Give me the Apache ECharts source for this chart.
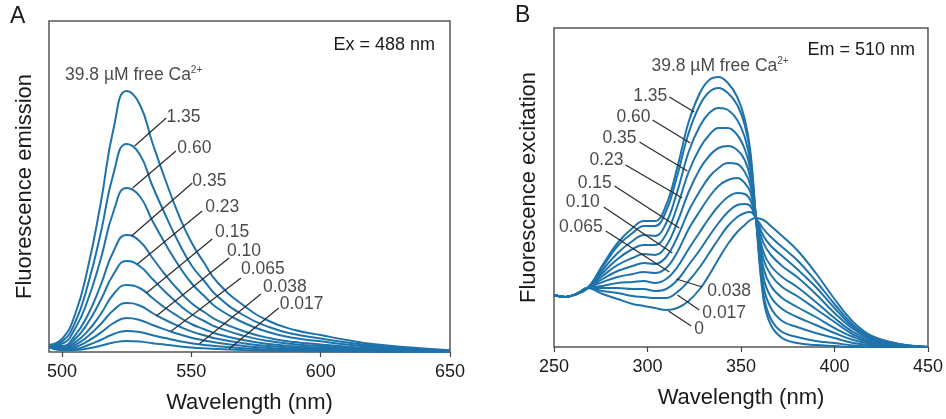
<!DOCTYPE html>
<html><head><meta charset="utf-8">
<script src="https://cdn.jsdelivr.net/npm/echarts@6/dist/echarts.min.js"></script>
<style>html,body{margin:0;padding:0;background:#fff}#c{width:946px;height:419px}</style>
</head><body><div id="c"></div>
<script>
// ---------- Panel A: emission (Ex = 488 nm) ----------
const wlA = [495,500,505,510,515,520,525,530,535,540,545,550,555,560,570,580,590,600,610,620,635,650];
const caA = ['39.8','1.35','0.60','0.35','0.23','0.15','0.10','0.065','0.038','0.017'];
const emA_39_8 = [7,13,37,84,149,224,261,248,209,172,138,110,89,70,47,31,22,17,12,8,4.4,1.8];
const emA_1_35 = [6.5,10.4,29,67,119,179,208,198,166,137,110,87,71,56,37,25,17.7,13.5,9.6,6.7,3.5,1.5];
const emA_0_60 = [6,8.2,23,52,93,141,164,156,131,108,87,69,56,44,29.5,19.7,13.9,10.7,7.5,5.2,2.8,1.1];
const emA_0_35 = [6,5.9,16.4,37,67,101,117,111,94,77,62,49,40,31.6,21,14,9.9,7.6,5.4,3.7,2,0.8];
const emA_0_23 = [6,4.6,12.7,29,52,78,91,86,73,60,48,38,31,24.6,16.4,10.9,7.7,5.9,4.2,2.9,1.5,0.6];
const emA_0_15 = [6,3.4,9.4,21,38,58,67,64,54,44,35.5,28,22.8,18,12,8,5.7,4.4,3.1,2.1,1.1,0.5];
const emA_0_10 = [5.5,3,6.9,15.7,28,42,49,46.5,39,32,26,20.6,16.7,13.2,8.8,5.9,4.2,3.2,2.3,1.6,0.8,0.3];
const emA_0_065 = [5.5,2.5,4.8,10.9,19.4,29,34,32,27,22.4,18,14.3,11.6,9.2,6.1,4.1,2.9,2.2,1.6,1.1,0.6,0.2];
const emA_0_038 = [5,2,2.9,6.7,12,18,21,20,16.8,13.9,11.1,8.8,7.1,5.7,3.8,2.5,1.8,1.4,1,0.7,0.4,0.1];
const emA_0_017 = [5,1.8,2,3.5,6.3,9.5,11,10.5,8.8,7.3,5.8,4.6,3.7,3,2,1.3,0.9,0.7,0.5,0.35,0.2,0.1];
const seriesA = [emA_39_8,emA_1_35,emA_0_60,emA_0_35,emA_0_23,emA_0_15,emA_0_10,emA_0_065,emA_0_038,emA_0_017];
const ticksA = [500,550,600,650];
// leader lines [curve point, label point] and label anchors (data coords)
const leadersA = [
  [[528.1,206],[540.3,234]],[[527.3,164],[544.1,201]],[[526.9,116],[550.4,169]],
  [[529.2,88],[554.2,141]],[[532.7,59],[558.1,113]],[[536.5,36],[564.6,94]],
  [[542.3,21],[569.2,74]],[[553.1,8],[576.9,58]],[[564.6,3],[583.8,44]]
];
const labelPtsA = [[540.4,235],[544.6,204],[550.4,171],[555.4,145],[559.2,120],[563.8,101],[569.2,83],[577.7,65],[584.2,48]];
const headPtA = [501.2,277];

// ---------- Panel B: excitation (Em = 510 nm) ----------
const wlB = [250,256,262,268,276,284,292,298,304,310,316,322,328,333,338,343,348,352,355,358,362,366,372,380,390,400,410,420,435,450];
const caB = ['39.8','1.35','0.60','0.35','0.23','0.15','0.10','0.065','0.038','0.017','0'];
const exB_39_8 = [52,50,53,59,82,104,119,126,126,142,180,225,254,267,270,264,250,228,196,129,48,22,9,4,2,1,0,0,0,0];
const exB_1_35 = [52,50,53,59,80,101,114,121,121,136,172,214,242,255,259,254,242,222,192,129,53,28,15,10,6,4,1.5,0.7,0.2,0];
const exB_0_60 = [52,50,53,59,77,94,106,112,111,124,156,195,221,234,239,237,227,210,184,129,61,39,26,20,14,9,4,2,0.5,0];
const exB_0_35 = [52,50,53,59,74,88,98,102,102,113,141,175,199,212,219,219,212,198,177,129,70,50,38,30,22,14,7,3,0.8,0];
const exB_0_23 = [52,50,53,59,71,82,89,93,92,101,125,155,178,191,199,201,197,187,169,129,79,61,49,40,30,19,10,4,1.2,0];
const exB_0_15 = [52,50,53,59,68,76,81,84,83,90,110,136,156,170,179,184,183,175,162,129,88,72,60,51,38,25,12.5,5.5,1.5,0];
const exB_0_10 = [52,50,53,59,65,70,73,75,74,79,95,118,136,150,161,167,169,164,155,129,95,81,70,60,45,29,15,7,1.8,0];
const exB_0_065 = [52,50,53,59,61,64,65,66,64,68,80,98,115,129,141,150,154,153,147,129,104,92,81,70,53,34,18,8,2.1,0];
const exB_0_038 = [52,50,53,59,59,59,58,58,56,58,67,82,97,111,124,135,142,143,141,129,111,101,91,78,60,39,20,9,2.4,0];
const exB_0_017 = [52,50,53,59,56,54,51,50,49,49,55,66,80,94,108,121,130,134,135,129,118,110,100,87,66,43,22,10,2.7,0];
const exB_0 = [52,50,53,59,53,48,43,41,39,37,39,46,58,72,88,103,115,122,127,129,127,121,111,97,74,48,25,11,3,0];
const seriesB = [exB_39_8,exB_1_35,exB_0_60,exB_0_35,exB_0_23,exB_0_15,exB_0_10,exB_0_065,exB_0_038,exB_0_017,exB_0];
const leadersB = [
  [[325.0,235],[311.7,250]],[[322.9,204],[302.7,227]],[[321.3,176],[295.7,205]],
  [[318.6,149],[288.3,182]],[[317.0,119],[282.4,161]],[[313.3,94],[276.6,140]],
  [[311.7,75],[277.7,116]],[[315.4,68],[329.3,60]],[[316.0,52],[327.7,37]],[[311.2,36],[323.4,21]]
];
const labelPtsB = [[310.6,251],[301.6,230],[294.1,209],[287.2,187],[280.9,164],[274.5,145],[276.1,120],[331.9,56],[329.3,34],[325.0,18]];
const headPtB = [302.1,281];

// ---------- styling ----------
const FONT = '"Liberation Sans", Arial, Helvetica, sans-serif';
const BLUE = '#1f73ab';
const TXT = '#1a1a1a';

const series = [];
function curves(wl, arrs, idx, sm) {
  arrs.forEach(function (arr, i) {
    series.push({
      type: 'line', xAxisIndex: idx, yAxisIndex: idx,
      data: wl.map(function (w, k) { return [w, arr[k]]; }),
      showSymbol: false, smooth: sm, silent: true, animation: false,
      lineStyle: { color: BLUE, width: 2 }, z: 2
    });
  });
}
curves(wlA, seriesA, 0, 0.5);
curves(wlB, seriesB, 1, 0.4);

function annot(idx, leaders, pts, names, heading, leftFrom) {
  const rich = {
    t: { fontSize: 17.5, fontFamily: FONT, color: TXT, lineHeight: 20 },
    s: { fontSize: 10, fontFamily: FONT, color: TXT, lineHeight: 12, verticalAlign: 'top' }
  };
  const data = pts.map(function (p, i) {
    const isLeft = i < leftFrom;
    return {
      value: p,
      label: {
        show: true, formatter: names[i], position: isLeft ? 'left' : 'right', distance: 0,
        fontSize: 17.5, fontFamily: FONT, color: TXT
      }
    };
  });
  data.push({
    value: heading,
    label: { show: true, position: 'right', distance: 0, formatter: '{t|39.8 µM free Ca}{s|2+}', rich: rich }
  });
  series.push({
    type: 'scatter', xAxisIndex: idx, yAxisIndex: idx, symbolSize: 0, silent: true, animation: false,
    data: data, z: 5,
    markLine: {
      silent: true, animation: false, symbol: 'none',
      label: { show: false },
      lineStyle: { color: '#2a2a2a', width: 1.2, type: 'solid' },
      data: leaders.map(function (l) { return [{ coord: l[0] }, { coord: l[1] }]; })
    }
  });
}
annot(0, leadersA, labelPtsA, caA.slice(1), headPtA, 0);
annot(1, leadersB, labelPtsB, caB.slice(1), headPtB, 7);

function xAx(idx, min, max, extra) {
  return Object.assign({
    type: 'value', gridIndex: idx, min: min, max: max,
    name: 'Wavelength (nm)', nameLocation: 'middle', nameGap: 40,
    nameTextStyle: { fontSize: 22, fontFamily: FONT, color: TXT },
    axisLine: { show: false },
    axisTick: { show: true, inside: false, length: 5, lineStyle: { color: '#444', width: 1.2 } },
    axisLabel: { fontSize: 18, fontFamily: FONT, color: TXT, margin: 11 },
    splitLine: { show: false }
  }, extra);
}
function yAx(idx, max, name, gap) {
  return {
    type: 'value', gridIndex: idx, min: 0, max: max,
    name: name, nameLocation: 'middle', nameRotate: 90, nameGap: gap,
    nameTextStyle: { fontSize: 22, fontFamily: FONT, color: TXT },
    axisLine: { show: false }, axisTick: { show: false }, axisLabel: { show: false },
    splitLine: { show: false }
  };
}

const option = {
  backgroundColor: '#fff',
  animation: false,
  grid: [
    { left: 49, top: 21, width: 401, height: 331, show: true, borderColor: '#555', borderWidth: 1.5, backgroundColor: 'transparent' },
    { left: 554, top: 28, width: 375, height: 319, show: true, borderColor: '#555', borderWidth: 1.5, backgroundColor: 'transparent' }
  ],
  xAxis: [
    xAx(0, 495, 650, {
      axisTick: { show: true, inside: false, length: 5, customValues: ticksA, lineStyle: { color: '#444', width: 1.2 } },
      axisLabel: { fontSize: 18, fontFamily: FONT, color: TXT, margin: 11, customValues: ticksA }
    }),
    xAx(1, 250, 450, { interval: 50 })
  ],
  yAxis: [
    yAx(0, 331, 'Fluorescence emission', 13),
    yAx(1, 319, 'Fluorescence excitation', 14)
  ],
  graphic: [
    { type: 'text', left: 10, top: 5, style: { text: 'A', fontSize: 23, fontFamily: FONT, fill: TXT } },
    { type: 'text', left: 515, top: 4, style: { text: 'B', fontSize: 23, fontFamily: FONT, fill: TXT } },
    { type: 'text', x: 435, y: 45, style: { text: 'Ex = 488 nm', fontSize: 18, fontFamily: FONT, fill: TXT, align: 'right', verticalAlign: 'middle' } },
    { type: 'text', x: 915, y: 50, style: { text: 'Em = 510 nm', fontSize: 18, fontFamily: FONT, fill: TXT, align: 'right', verticalAlign: 'middle' } }
  ],
  series: series
};
const chart = echarts.init(document.getElementById('c'), null, { renderer: 'canvas' });
chart.setOption(option);
</script>
</body></html>
